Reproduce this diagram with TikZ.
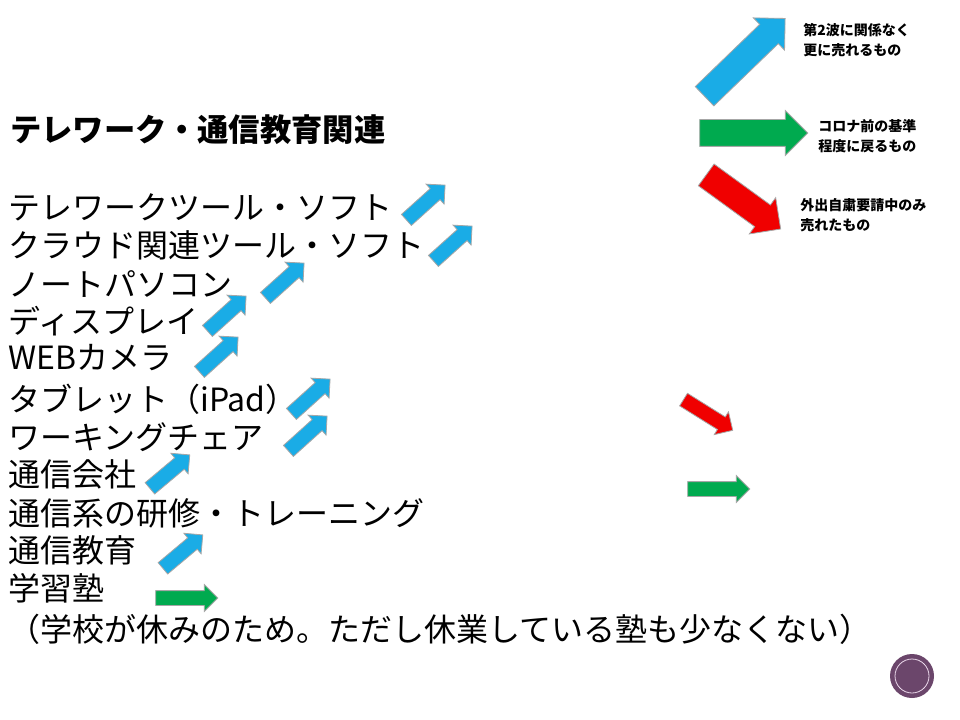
\documentclass[tikz,border=0pt]{standalone}
\usepackage{fontspec}
\newfontfamily\jp{Noto Sans CJK JP}
\usetikzlibrary{shapes.arrows}
\definecolor{ablue}{HTML}{1AACE6}
\definecolor{agreen}{HTML}{00AA4F}
\definecolor{ared}{HTML}{F00000}
\tikzset{
 arr/.style={single arrow, draw=gray!70, line width=0.6pt, inner xsep=0pt, single arrow tip angle=90},
 sm/.style={arr, minimum height=52*0.75pt, inner ysep=7*0.75pt, single arrow head extend=6*0.75pt},
 big/.style={arr, minimum height=108*0.75pt, inner ysep=13*0.75pt, single arrow head extend=9*0.75pt},
 item/.style={anchor=west, inner sep=0pt, font=\jp\fontsize{24}{24}\selectfont},
 leg/.style={anchor=west, inner sep=0pt, align=left, font=\jp\bfseries\fontsize{10.5}{15}\selectfont},
}
\begin{document}
\begin{tikzpicture}[x=0.75pt,y=-0.75pt]
\useasboundingbox[fill=white] (0,0) rectangle (960,720);
\node[item, font=\jp\bfseries\fontsize{23.5}{24}\selectfont] (h) at (10,130) {テレワーク・通信教育関連};
\node[item] (t1) at (8,207) {テレワークツール・ソフト};
\node[item] (t2) at (8,245) {クラウド関連ツール・ソフト};
\node[item] (t3) at (8,284) {ノートパソコン};
\node[item] (t4) at (8,321) {ディスプレイ};
\node[item] (t5) at (8,358) {WEBカメラ};
\node[item] (t6) at (8,399) {タブレット（iPad）};
\node[item] (t7) at (8,437) {ワーキングチェア};
\node[item] (t8) at (8,474) {通信会社};
\node[item] (t9) at (8,513) {通信系の研修・トレーニング};
\node[item] (t10) at (8,550) {通信教育};
\node[item] (t11) at (8,588) {学習塾};
\node[item] (t12) at (8,629) {（学校が休みのため。ただし休業している塾も少なくない）};
\node[sm, fill=ablue, rotate=42] (a1) at (423,205) {};
\node[sm, fill=ablue, rotate=42] (a2) at (450,246) {};
\node[sm, fill=ablue, rotate=42] (a3) at (282,283) {};
\node[sm, fill=ablue, rotate=42] (a4) at (224,316) {};
\node[sm, fill=ablue, rotate=42] (a5) at (216,357) {};
\node[sm, fill=ablue, rotate=42] (a6) at (308,399) {};
\node[sm, fill=ablue, rotate=42] (a7) at (305,436) {};
\node[sm, fill=ablue, rotate=40] (a8) at (167,474) {};
\node[sm, fill=ablue, rotate=40] (a9) at (180,554) {};
\node[sm, fill=agreen, minimum height=62*0.75pt] (a10) at (183,598) {};
\node[sm, fill=ared, rotate=-32, minimum height=58*0.75pt] (r1) at (705,413) {};
\node[sm, fill=agreen, minimum height=62*0.75pt] (g1) at (715,489) {};
\node[big, fill=ablue, rotate=44, minimum height=112*0.75pt] (lb) at (740,62) {};
\node[big, fill=agreen] (lg) at (747,133) {};
\node[big, fill=ared, rotate=-36, minimum height=92*0.75pt] (lr) at (738,198) {};
\node[leg] (l1) at (803,40) {第2波に関係なく\\更に売れるもの};
\node[leg] (l2) at (818,136) {コロナ前の基準\\程度に戻るもの};
\node[leg] (l3) at (800,215) {外出自粛要請中のみ\\売れたもの};
\node[circle, fill=black!35!violet!45!gray, minimum size=44*0.75pt, inner sep=0pt] (c) at (912,676) {};
\draw[white!85!violet, line width=0.6pt] (c.center) circle (17*0.75pt);
\end{tikzpicture}
\end{document}
